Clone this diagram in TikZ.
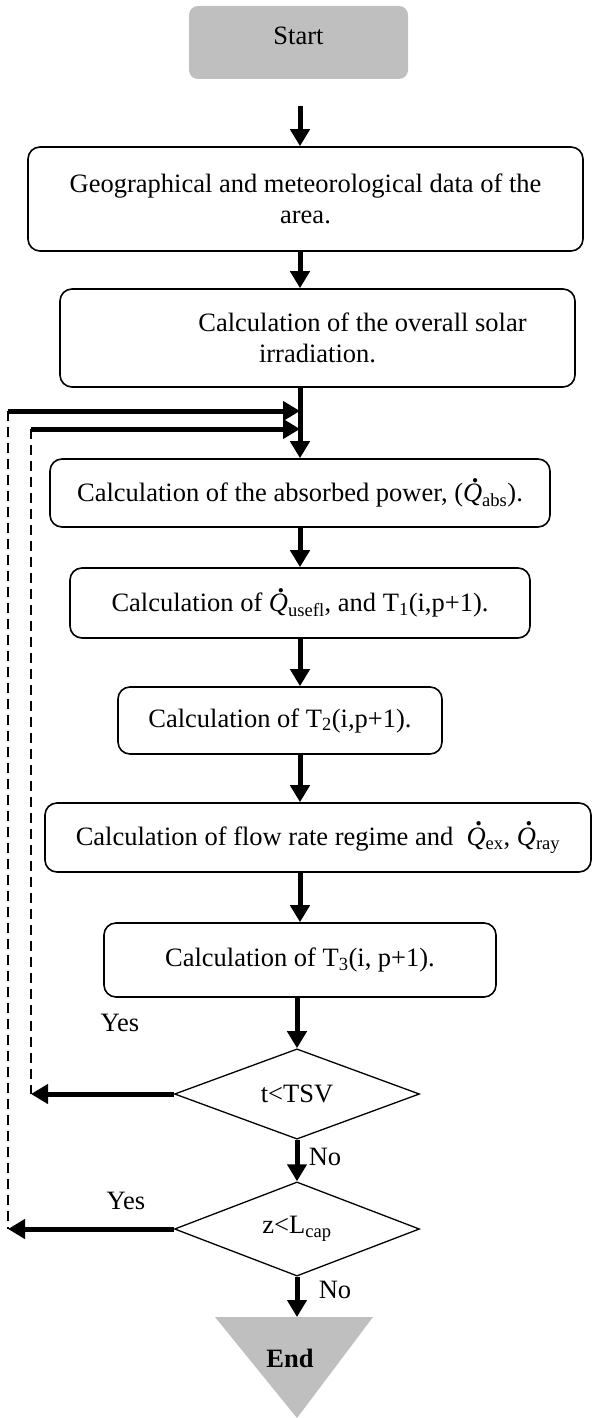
\documentclass[tikz,border=0pt]{standalone}
\usepackage{fontspec}
\setmainfont{Liberation Serif}
\usetikzlibrary{arrows.meta,shapes.geometric}
\definecolor{boxgray}{RGB}{191,191,191}
\newcommand{\Qd}{\makebox[0pt][l]{\hspace{0.33em}\raisebox{0.74em}{\textbf{.}}}\textit{Q}}
\begin{document}
\begin{tikzpicture}[x=1pt,y=-1pt,
  every node/.style={font=\fontsize{26.5}{31}\selectfont},
  box/.style={draw, line width=1.6pt, rounded corners=12pt, align=center, inner sep=0pt},
  dec/.style={draw, diamond, line width=1.3pt, inner sep=0pt, minimum width=245pt, minimum height=88pt},
  arr/.style={line width=5pt, -{Triangle[length=17pt,width=19pt]}},
  dsh/.style={line width=1.8pt, dash pattern=on 10pt off 6pt},
]
\useasboundingbox (0,0) rectangle (593,1418);
\coordinate (mid) at (300,0);

\node[box, fill=boxgray, draw=none, rounded corners=9pt, minimum width=219pt, minimum height=73pt] (start) at (298.5,42.5) {\raisebox{7pt}[\height][\depth]{Start}};
\node[box, minimum width=555pt, minimum height=104pt] (geo) at (305.5,199) {Geographical and meteorological data of the\\area.};
\node[box, minimum width=515pt, minimum height=98pt] (solar) at (317.5,338) {\hspace*{90pt}Calculation of the overall solar\\irradiation.};
\node[box, minimum width=500pt, minimum height=68pt] (abs) at (300,493) {Calculation of the absorbed power, (\Qd\textsubscript{abs}).};
\node[box, minimum width=460pt, minimum height=70pt] (use) at (300,603) {Calculation of \Qd\textsubscript{usefl}, and T\textsubscript{1}(i,p+1).};
\node[box, minimum width=324pt, minimum height=67pt] (t2) at (280,720.5) {Calculation of T\textsubscript{2}(i,p+1).};
\node[box, minimum width=546pt, minimum height=69pt] (flow) at (318,837.5) {Calculation of flow rate regime and\ \ \Qd\textsubscript{ex}, \Qd\textsubscript{ray}};
\node[box, minimum width=392pt, minimum height=74pt] (t3) at (300,960) {Calculation of T\textsubscript{3}(i, p+1).};
\node[dec] (d1) at (297,1094) {t<TSV};
\node[dec] (d2) at (297,1229) {z<L\textsubscript{cap}};

\fill[boxgray] (215,1317) -- (373,1317) -- (297,1418) -- cycle;
\coordinate (endtop) at (297,1317);
\node (end) at (290,1358) {\textbf{End}};

\coordinate (a1s) at (300,106);
\draw[arr] (a1s) -- (a1s |- geo.north);
\draw[arr] (geo.south -| mid) -- (solar.north -| mid);
\draw[arr] (solar.south -| mid) -- (abs.north);
\draw[arr] (abs.south) -- (use.north);
\draw[arr] (use.south) -- (use.south |- t2.north);
\draw[arr] (t2.south -| mid) -- (flow.north -| mid);
\draw[arr] (flow.south -| mid) -- (t3.north);
\draw[arr] (t3.south -| d1.north) -- (d1.north);
\draw[arr] (d1.south) -- (d2.north);
\draw[arr] (d2.south) -- (endtop);

\coordinate (o1) at (8,411);
\coordinate (o2) at (31,429);
\draw[arr] (o1) -- (o1 -| mid);
\draw[arr] (o2) -- (o2 -| mid);
\draw[dsh] (o1) -- (o1 |- d2.west);
\draw[dsh] (o2) -- (o2 |- d1.west);
\draw[arr] (d1.west) -- (d1.west -| o2);
\draw[arr] (d2.west) -- (d2.west -| o1);

\node (yes1) at (120,1023) {Yes};
\node (yes2) at (126,1201) {Yes};
\node (no1) at (325,1157) {No};
\node (no2) at (335,1290) {No};
\end{tikzpicture}
\end{document}
